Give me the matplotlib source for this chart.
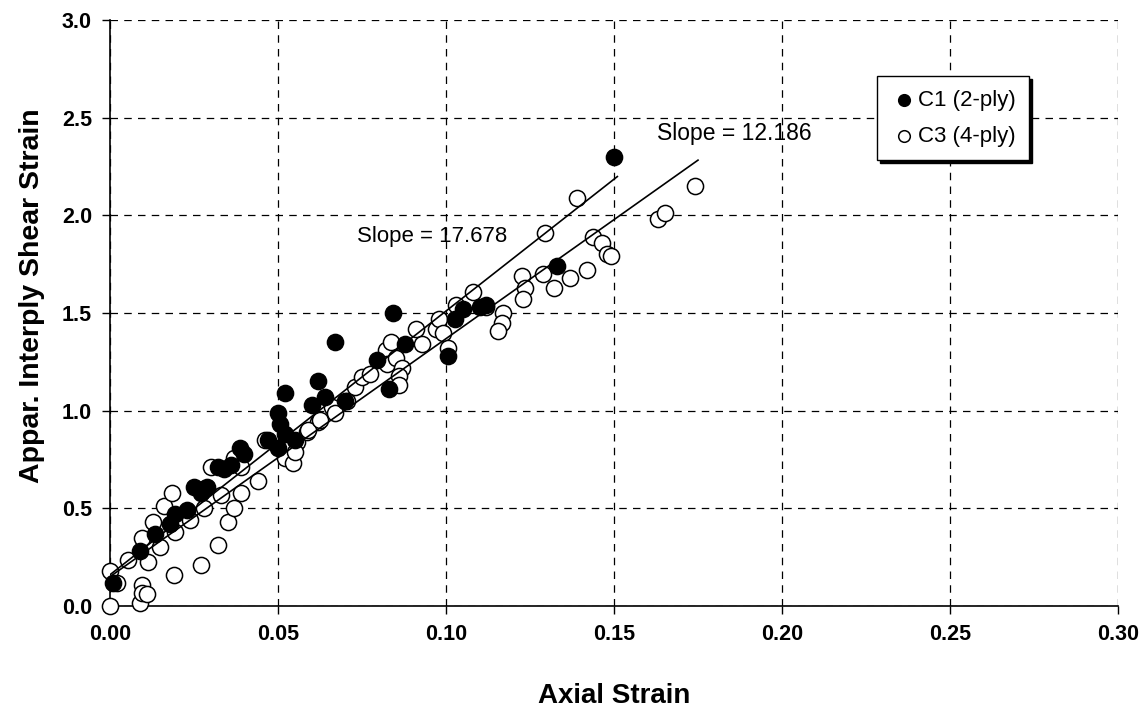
import matplotlib
matplotlib.use("Agg")
import matplotlib.pyplot as plt
import numpy as np

plt.rcParams['font.family'] = ['Liberation Sans', 'DejaVu Sans']

# C1 (2-ply) data
c1_x = [0.001, 0.009, 0.0134, 0.018, 0.0193, 0.023, 0.025, 0.0277, 0.027, 0.029,
        0.032, 0.034, 0.036, 0.0387, 0.040, 0.047, 0.050, 0.0506, 0.052, 0.050,
        0.052, 0.055, 0.060, 0.062, 0.064, 0.067, 0.070, 0.0795, 0.083, 0.0842,
        0.0878, 0.1006, 0.1027, 0.105, 0.110, 0.112, 0.133, 0.150]
c1_y = [0.12, 0.28, 0.37, 0.42, 0.47, 0.49, 0.61, 0.60, 0.58, 0.61,
        0.71, 0.70, 0.72, 0.81, 0.78, 0.85, 0.81, 0.93, 0.88, 0.99,
        1.09, 0.85, 1.03, 1.15, 1.07, 1.35, 1.05, 1.26, 1.11, 1.50,
        1.34, 1.28, 1.47, 1.52, 1.53, 1.54, 1.74, 2.30]

# C3 (4-ply) data
c3_x = [0.000, 0.000, 0.002, 0.009, 0.0095, 0.0095, 0.011, 0.0054, 0.0113, 0.0095,
        0.0128, 0.016, 0.0184, 0.015, 0.0193, 0.0238, 0.028, 0.019, 0.027, 0.032,
        0.035, 0.033, 0.030, 0.037, 0.039, 0.046, 0.044, 0.039, 0.037, 0.052,
        0.0545, 0.0556, 0.055, 0.0586, 0.062, 0.059, 0.0625, 0.066, 0.067, 0.0705,
        0.073, 0.075, 0.0774, 0.082, 0.0824, 0.085, 0.0835, 0.087, 0.086, 0.086,
        0.091, 0.093, 0.097, 0.098, 0.099, 0.1006, 0.103, 0.108, 0.112, 0.117,
        0.1167, 0.1155, 0.1226, 0.1235, 0.123, 0.129, 0.1295, 0.132, 0.137, 0.139,
        0.142, 0.1438, 0.1464, 0.148, 0.149, 0.163, 0.1652, 0.174]
c3_y = [0.00, 0.18, 0.12, 0.015, 0.11, 0.065, 0.06, 0.235, 0.225, 0.35,
        0.43, 0.51, 0.58, 0.30, 0.38, 0.44, 0.50, 0.16, 0.21, 0.31,
        0.43, 0.57, 0.71, 0.76, 0.71, 0.85, 0.64, 0.58, 0.50, 0.76,
        0.73, 0.84, 0.79, 0.89, 0.94, 0.90, 0.95, 1.02, 0.99, 1.05,
        1.12, 1.17, 1.19, 1.31, 1.24, 1.27, 1.35, 1.22, 1.18, 1.13,
        1.42, 1.34, 1.42, 1.47, 1.40, 1.32, 1.54, 1.61, 1.53, 1.50,
        1.45, 1.41, 1.69, 1.63, 1.57, 1.70, 1.91, 1.63, 1.68, 2.09,
        1.72, 1.89, 1.86, 1.80, 1.79, 1.98, 2.01, 2.15]

# fitted lines (intercept, slope, x range)
fit_c1 = dict(b=0.16, m=13.5, x0=0.0, x1=0.151)
fit_c3 = dict(b=0.15, m=12.186, x0=0.0, x1=0.175)

xticks = [0.00, 0.05, 0.10, 0.15, 0.20, 0.25, 0.30]
yticks = [0.0, 0.5, 1.0, 1.5, 2.0, 2.5, 3.0]

fig = plt.figure(figsize=(11.47, 7.08), dpi=100)
ax = fig.add_axes([110/1147, 1-606/708, 1008/1147, 586/708])

ax.scatter(c3_x, c3_y, s=135, facecolors='white', edgecolors='black', linewidths=1.1,
           zorder=3, label='C3 (4-ply)', clip_on=False)
ax.scatter(c1_x, c1_y, s=135, facecolors='black', edgecolors='black', linewidths=1.1,
           zorder=3, label='C1 (2-ply)', clip_on=False)

for f in (fit_c1, fit_c3):
    xs = np.array([f['x0'], f['x1']])
    ax.plot(xs, f['b'] + f['m'] * xs, color='black', lw=1.2, zorder=4)

ax.text(0.0735, 1.89, 'Slope = 17.678', fontsize=16, va='center', ha='left', zorder=5)
ax.text(0.1628, 2.42, 'Slope = 12.186', fontsize=16.5, va='center', ha='left', zorder=5)

ax.set_xlim(0, 0.30)
ax.set_ylim(0, 3.0)
ax.set_xticks(xticks)
ax.set_yticks(yticks)
ax.set_xticklabels([f'{v:.2f}' for v in xticks], fontweight='bold', fontsize=15.5)
ax.set_yticklabels([f'{v:.1f}' for v in yticks], fontweight='bold', fontsize=15.5)
ax.tick_params(direction='out', length=6, width=1, pad=7)
ax.grid(True, color='black', linestyle=(0, (6, 5)), lw=0.9)
ax.set_axisbelow(True)
for s in ('top', 'right'):
    ax.spines[s].set_visible(False)
for s in ('left', 'bottom'):
    ax.spines[s].set_linewidth(1.2)

ax.set_xlabel('Axial Strain', fontsize=20, fontweight='bold', labelpad=27)
ax.set_ylabel('Appar. Interply Shear Strain', fontsize=20.5, fontweight='bold')
ax.yaxis.set_label_coords(-0.064, 0.53)

h, l = ax.get_legend_handles_labels()
leg = ax.legend(h[::-1], l[::-1], loc='upper left', bbox_to_anchor=(0.761, 0.904),
                fontsize=16, frameon=True, fancybox=False, shadow={'color': 'black', 'alpha': 1},
                edgecolor='black', borderpad=0.6, labelspacing=0.7, handletextpad=0.05,
                handlelength=1.2, markerscale=0.72, borderaxespad=0)
leg.get_frame().set_linewidth(1.0)

fig.savefig('out.png', dpi=100)
